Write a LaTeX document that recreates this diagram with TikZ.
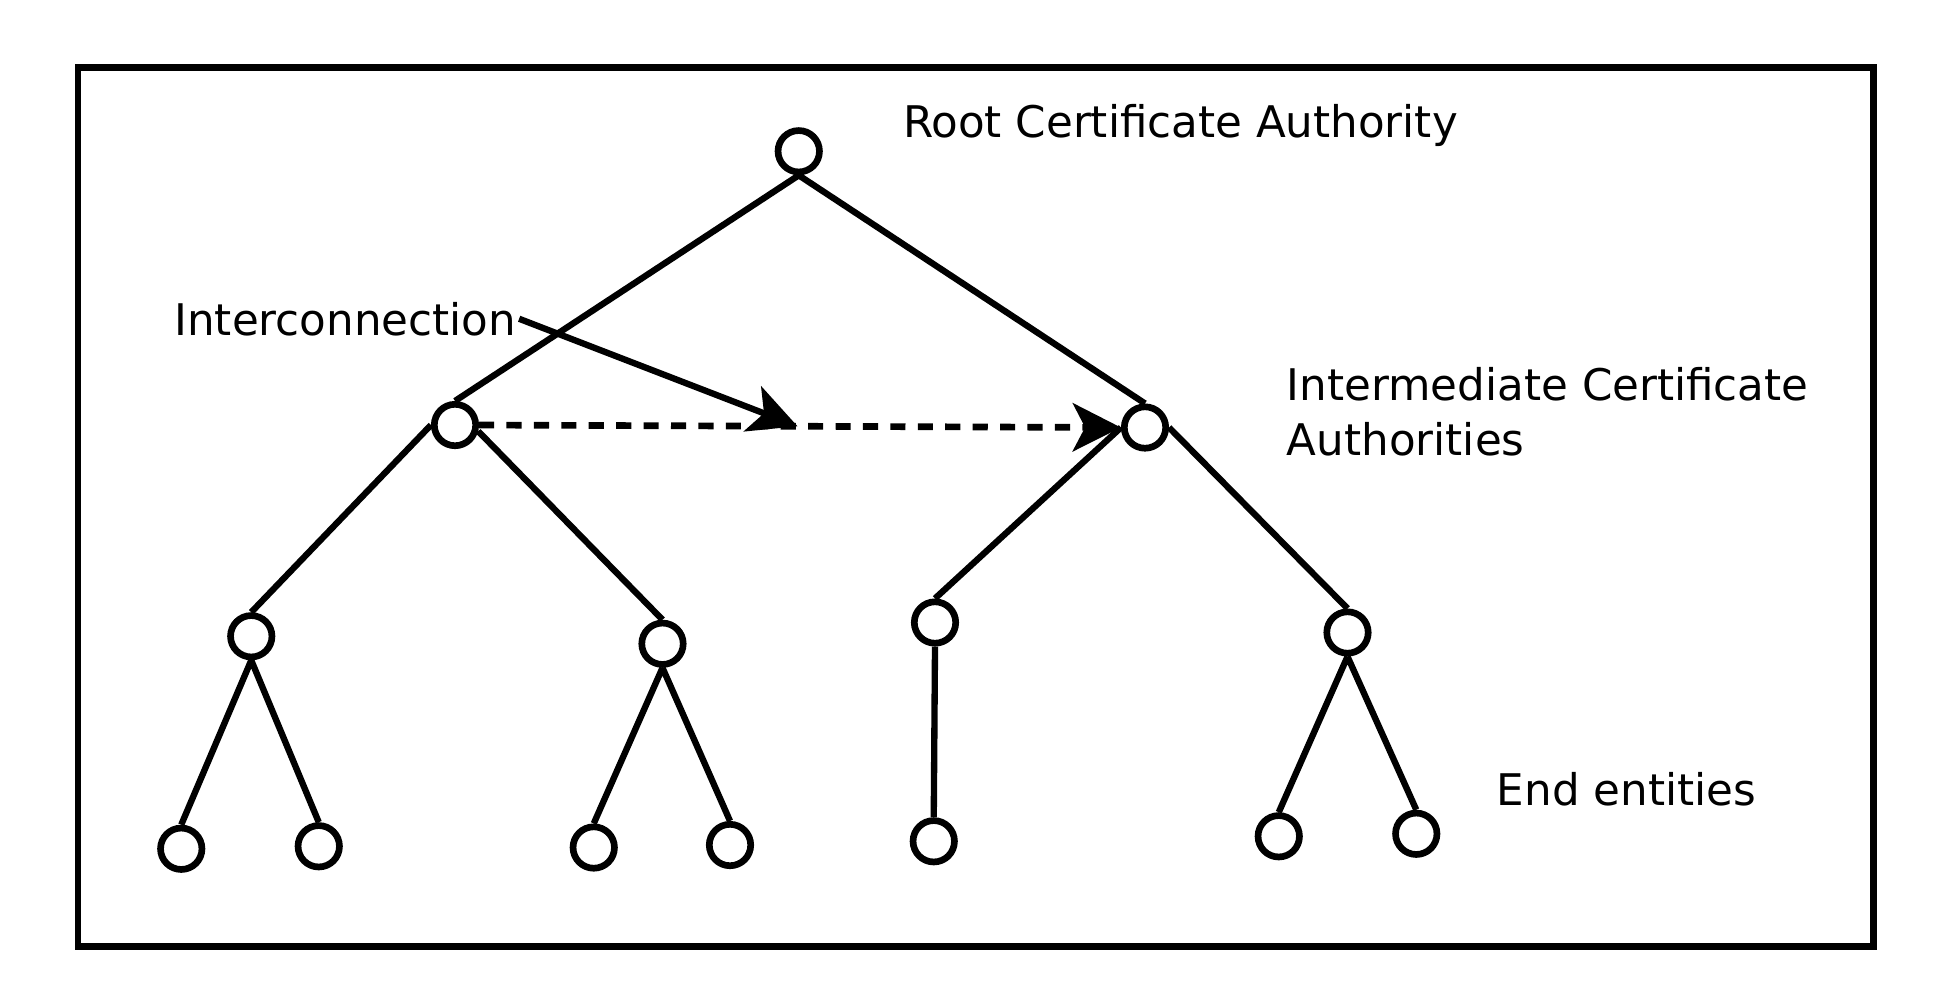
\documentclass[tikz,border=0pt]{standalone}
\usepackage{fontspec}
\setmainfont{DejaVu Sans}
\usetikzlibrary{arrows,arrows.meta,calc,positioning}

\begin{document}
\begin{tikzpicture}[x=0.0125cm,y=-0.0125cm,line width=1.8pt,
  every node/.style={font=\fontsize{12.4}{15}\selectfont},
  ca/.style={circle,draw,line width=1.9pt,minimum size=0.414cm,inner sep=0pt},
  lbl/.style={anchor=base west,inner sep=0pt},
  tip/.style={-{Stealth[length=13.7pt,width=13.7pt,inset=3.5pt]}}]
\useasboundingbox (0,0) rectangle (1566.4,800);
\draw[line width=1.9pt] (62.5,54) rectangle (1499,757);
\draw
     (639,121) node[ca] (Root) {}
     (364,340) node[ca] (IntL) {}
     (916,342) node[ca] (IntR) {}
     (201,509) node[ca] (SubA) {}
     (530,515) node[ca] (SubB) {}
     (748,498) node[ca] (SubC) {}
     (1078,506) node[ca] (SubD) {}
     (145,679) node[ca] (EndA) {}
     (255,677) node[ca] (EndB) {}
     (475,678) node[ca] (EndC) {}
     (584,676) node[ca] (EndD) {}
     (747,673) node[ca] (EndE) {}
     (1023,669) node[ca] (EndF) {}
     (1133,667) node[ca] (EndG) {};
\draw (Root.south) -- (IntL.north) (Root.south) -- (IntR.north)
     (IntL.west) -- (SubA.north) (IntL.-15) -- (SubB.north)
     (IntR.west) -- (SubC.north) (IntR.east) -- (SubD.north)
     (SubA.south) -- (EndA.north) (SubA.south) -- (EndB.north)
     (SubB.south) -- (EndC.north) (SubB.south) -- (EndD.north)
     (SubC.south) -- (EndE.north)
     (SubD.south) -- (EndF.north) (SubD.south) -- (EndG.north);
\node[lbl] (lblRoot) at (720,110) {Root Certificate Authority};
\node[lbl] (lblInter) at (137,268) {Interconnection};
\node[lbl] (lblMid) at (1027,320) {Intermediate Certificate};
\node[lbl] (lblMid2) at (1027,364) {Authorities};
\node[lbl] (lblEnd) at (1195,644) {End entities};
\coordinate (hit) at (638,341);
\draw[tip, line width=1.9pt, dash pattern=on 4.3pt off 3.5pt] (IntL.east) -- (IntR.west);
\draw[tip] (lblInter.east) -- (hit);
\end{tikzpicture}
\end{document}
